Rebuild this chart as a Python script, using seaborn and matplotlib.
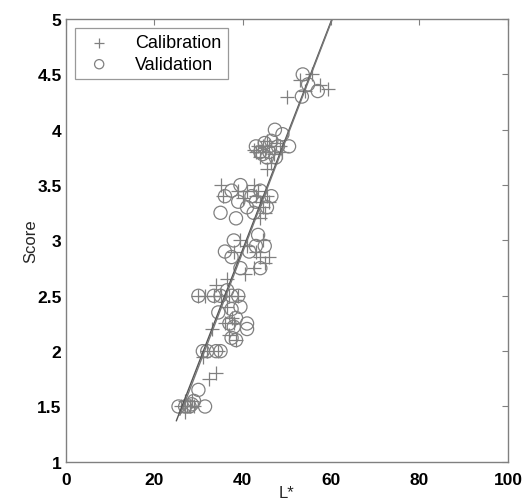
import numpy as np
import pandas as pd
import matplotlib
matplotlib.use("Agg")
import matplotlib.pyplot as plt
import seaborn as sns

# ---- data ----
cal_x = [50.0, 54.0, 55.7, 59.3, 57.5, 53.0,
         42.5, 43.5, 44.5, 45.0, 45.5, 46.0, 47.0, 47.5, 48.5, 44.0, 46.5, 45.5, 49.0, 43.0,
         35.0, 35.5, 39.0, 41.0, 42.5, 43.0, 44.0, 44.5, 45.0, 45.5, 46.0, 43.5, 40.0, 44.0,
         38.0, 39.5, 41.0, 43.0, 44.0, 45.0, 46.0, 42.5, 44.5, 40.5,
         30.0, 31.5, 33.5, 35.0, 37.0, 39.0, 36.5, 34.0,
         36.5, 37.5, 38.0, 37.0, 38.5, 33.0, 36.0,
         31.0, 32.0, 34.5,
         32.5, 34.0,
         26.0, 27.0, 27.5, 28.0, 28.5, 29.0, 27.0]
cal_y = [4.30, 4.35, 4.50, 4.37, 4.40, 4.45,
         3.82, 3.85, 3.85, 3.80, 3.90, 3.85, 3.78, 3.88, 3.85, 3.75, 3.70, 3.65, 3.80, 3.80,
         3.50, 3.40, 3.45, 3.45, 3.50, 3.40, 3.35, 3.30, 3.25, 3.40, 3.35, 3.45, 3.38, 3.20,
         2.90, 3.00, 2.95, 2.90, 2.85, 2.80, 2.85, 2.75, 3.00, 2.70,
         2.50, 2.50, 2.50, 2.50, 2.50, 2.50, 2.65, 2.60,
         2.40, 2.30, 2.25, 2.15, 2.10, 2.20, 2.25,
         1.95, 2.00, 2.00,
         1.75, 1.80,
         1.50, 1.55, 1.50, 1.50, 1.55, 1.50, 1.45]

val_x = [53.6, 54.8, 57.0, 53.4,
         47.3, 49.0, 43.0, 44.0, 45.0, 46.0, 46.5, 47.5, 48.0, 44.5, 50.5, 45.5,
         36.0, 37.5, 39.5, 39.0, 41.0, 42.0, 43.0, 44.0, 45.5, 46.5, 35.0, 38.5, 42.5,
         36.0, 38.0, 39.5, 41.5, 43.0, 44.0, 45.0, 37.5, 43.5,
         30.0, 33.5, 35.0, 37.5, 36.5, 39.0, 34.5, 39.5,
         37.5, 38.5, 37.0, 38.0, 41.0, 41.0, 37.5, 38.5,
         31.0, 32.0, 34.0, 35.0,
         30.0, 29.0,
         25.5, 27.0, 28.0, 31.5, 28.5]
val_y = [4.50, 4.41, 4.35, 4.30,
         4.00, 3.96, 3.85, 3.80, 3.88, 3.80, 3.90, 3.75, 3.85, 3.78, 3.85, 3.75,
         3.40, 3.45, 3.50, 3.35, 3.30, 3.40, 3.35, 3.45, 3.30, 3.40, 3.25, 3.20, 3.25,
         2.90, 3.00, 2.75, 2.90, 2.95, 2.75, 2.95, 2.85, 3.05,
         2.50, 2.50, 2.50, 2.50, 2.55, 2.50, 2.35, 2.40,
         2.38, 2.30, 2.25, 2.22, 2.20, 2.25, 2.12, 2.10,
         2.00, 2.00, 2.00, 2.00,
         1.65, 1.55,
         1.50, 1.50, 1.50, 1.50, 1.52]

# regression lines (end points)
fit_cal_x = [25.0, 60.2]
fit_cal_y = [1.37, 5.00]
fit_val_x = [25.8, 60.3]
fit_val_y = [1.42, 5.00]

x_ticks = [0, 20, 40, 60, 80, 100]
y_ticks = [1, 1.5, 2, 2.5, 3, 3.5, 4, 4.5, 5]
y_tick_labels = ["1", "1.5", "2", "2.5", "3", "3.5", "4", "4.5", "5"]

sns.set_style("white")
plt.rcParams["font.family"] = ["Liberation Sans", "DejaVu Sans"]

fig = plt.figure(figsize=(5.22, 5.02), dpi=100)
ax = fig.add_axes([0.126, 0.078, 0.847, 0.882])

gray = "#808080"
cal = pd.DataFrame({"L": cal_x, "Score": cal_y})
val = pd.DataFrame({"L": val_x, "Score": val_y})

sns.lineplot(x=fit_cal_x, y=fit_cal_y, ax=ax, color="#555555", linewidth=1.0)
sns.lineplot(x=fit_val_x, y=fit_val_y, ax=ax, color="#777777", linewidth=1.0)

sns.scatterplot(data=cal, x="L", y="Score", ax=ax, marker="+", s=90,
                color=gray, linewidths=0.9, label="Calibration")
sns.scatterplot(data=val, x="L", y="Score", ax=ax, marker="o", s=90,
                facecolors="none", edgecolors=gray, linewidths=0.9, label="Validation")

ax.set_xlim(0, 100)
ax.set_ylim(1, 5)
ax.set_xticks(x_ticks)
ax.set_yticks(y_ticks)
ax.set_yticklabels(y_tick_labels)
ax.tick_params(direction="in", length=4, width=0.8, color=gray,
               top=True, right=True, labelsize=12.5, labelcolor="black")
ax.tick_params(axis="x", pad=7)
ax.tick_params(axis="y", pad=3)
for lab in ax.get_xticklabels() + ax.get_yticklabels():
    lab.set_fontweight("semibold")
for sp in ax.spines.values():
    sp.set_color(gray)
    sp.set_linewidth(1.0)

ax.set_xlabel("L*", fontsize=12, labelpad=-1)
ax.set_ylabel("Score", fontsize=12, labelpad=-1)

leg = ax.legend(loc="upper left", frameon=True, fancybox=False, fontsize=13,
                edgecolor=gray, borderpad=0.35, handletextpad=1.0, borderaxespad=0.5,
                labelspacing=0.25, markerscale=0.7, handlelength=2.0)
leg.get_frame().set_linewidth(0.9)
for t in leg.get_texts():
    t.set_color("black")

fig.savefig("out.png", dpi=100)
